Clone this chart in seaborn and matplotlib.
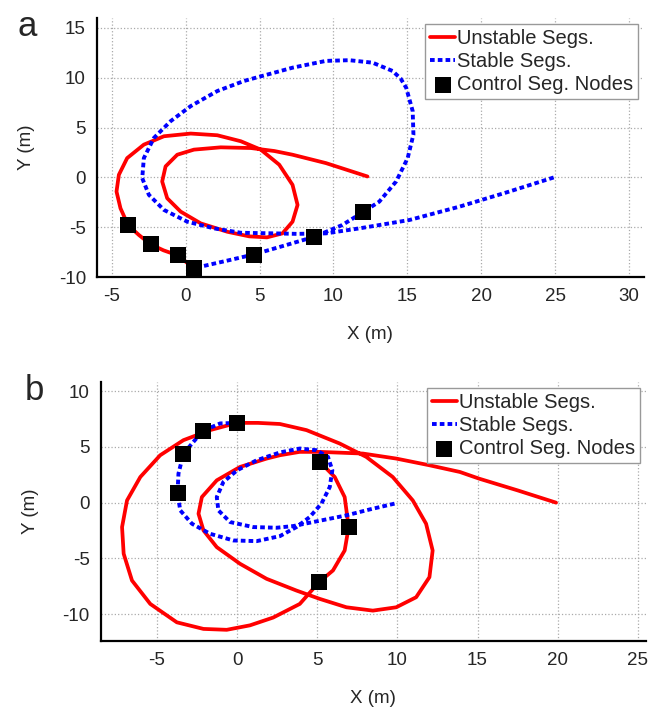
import matplotlib
matplotlib.use("Agg")
import matplotlib.pyplot as plt
import pandas as pd
import seaborn as sns

# panel a
a_stable_x = [24.9, 21.7, 18.53, 15.14, 11.75, 9.49, 7.5, 5.99, 3.73, 1.92, 0.11, -1.47, -2.49,
              -2.94, -2.83, -2.15, -1.02, 0.34, 2.14, 3.95, 5.0, 6.0, 7.23, 9.49, 11.07, 12.65,
              14.0, 14.55, 14.92, 15.36, 15.41, 15.02, 14.24, 13.1, 11.97, 10.6, 8.7, 6.78, 4.59,
              2.9, 1.24]
a_stable_y = [0.0, -1.5, -2.92, -4.26, -5.1, -5.6, -5.65, -5.6, -5.54, -5.1, -4.43, -3.25, -1.74,
              -0.07, 1.94, 3.96, 5.64, 7.15, 8.66, 9.67, 10.1, 10.5, 11.0, 11.68, 11.75, 11.5,
              10.67, 9.9, 8.99, 6.65, 4.3, 1.94, -0.4, -2.42, -3.5, -4.76, -5.94, -6.78, -7.72,
              -8.3, -8.86]
a_unstable_x = [0.56, -0.54, -1.5, -2.37, -3.16, -3.9, -4.41, -4.68, -4.52, -3.96, -2.83, -1.47,
                0.34, 2.14, 3.73, 5.08, 6.33, 7.23, 7.57, 7.23, 6.55, 5.5, 4.3, 2.82, 1.02, -0.34,
                -1.25, -1.59, -1.36, -0.57, 0.56, 2.37, 4.41, 6.0, 7.23, 9.49, 12.3]
a_unstable_y = [-9.1, -7.8, -7.3, -6.7, -5.77, -4.77, -3.09, -1.41, 0.27, 1.94, 3.29, 4.13, 4.4,
                4.23, 3.63, 2.79, 1.28, -0.74, -2.75, -4.43, -5.6, -6.0, -5.9, -5.44, -4.6, -3.42,
                -2.08, -0.4, 1.11, 2.28, 2.79, 3.02, 2.95, 2.65, 2.28, 1.44, 0.1]
a_nodes_x = [-3.9, -2.37, -0.54, 0.56, 4.59, 8.7, 11.97]
a_nodes_y = [-4.77, -6.7, -7.8, -9.1, -7.72, -5.94, -3.5]

# panel b
b_stable_x = [9.82, 8.3, 6.82, 4.74, 3.5, 2.46, 1.0, -0.44, -1.17, -1.27, -0.86, 0.0, 1.22, 2.67,
              3.91, 4.95, 5.67, 5.94, 5.78, 5.26, 4.53, 3.7, 2.67, 1.22, -0.24, -1.69, -2.82,
              -3.55, -3.72, -3.66, -3.35, -2.14, -1.06, 0.0]
b_stable_y = [-0.09, -0.6, -1.14, -1.74, -2.1, -2.25, -2.19, -1.74, -0.69, 0.5, 1.85, 2.9, 3.8,
              4.5, 4.85, 4.7, 4.1, 2.9, 1.4, -0.09, -1.29, -2.19, -3.0, -3.45, -3.39, -2.79,
              -1.89, -0.69, 0.86, 2.6, 4.4, 6.43, 7.1, 7.15]
b_unstable1_x = [19.9, 17.5, 15.1, 13.9, 12.0, 9.93, 7.85, 5.16, 3.9, 2.67, 1.84, 0.18, -1.27,
                 -2.2, -2.41, -2.1, -1.27, 0.18, 1.84, 3.7, 5.16, 6.82, 8.47, 9.93, 11.17, 12.0,
                 12.2, 11.79, 10.96, 9.71, 8.06, 6.4, 4.33, 2.67, 1.3, 0.0]
b_unstable1_y = [0.0, 1.1, 2.15, 2.75, 3.35, 3.95, 4.4, 4.55, 4.55, 4.25, 3.95, 3.2, 2.0, 0.5,
                 -0.99, -2.49, -3.99, -5.48, -6.83, -7.88, -8.63, -9.38, -9.68, -9.38, -8.48,
                 -6.68, -4.29, -1.89, 0.2, 2.3, 4.1, 5.3, 6.5, 7.05, 7.15, 7.15]
b_unstable2_x = [5.16, 6.09, 6.71, 6.96, 6.71, 5.98, 5.11, 3.91, 2.25, 0.8, -0.65, -2.1, -3.76,
                 -5.42, -6.56, -7.08, -7.18, -6.87, -6.04, -4.8, -3.35, -1.69, 0.0]
b_unstable2_y = [3.65, 2.3, 0.5, -2.19, -4.29, -6.08, -7.13, -9.08, -10.3, -11.0, -11.4, -11.32,
                 -10.73, -9.08, -6.98, -4.58, -2.19, 0.2, 2.3, 4.25, 5.6, 6.5, 7.15]
b_nodes_x = [-3.72, -3.35, -2.14, 0.0, 5.16, 6.96, 5.11]
b_nodes_y = [0.86, 4.4, 6.43, 7.15, 3.65, -2.19, -7.13]

RED = "#ff0000"
BLUE = "#0000ff"
FS = 13.5
LEG_FS = 14.5

sns.set_style("white")
plt.rcParams["font.family"] = ["Liberation Sans", "DejaVu Sans"]
plt.rcParams["axes.unicode_minus"] = False

fig = plt.figure(figsize=(6.51, 7.11), dpi=100)


def draw_panel(ax, stable, unstable_list, nodes, xlim, ylim, xticks, yticks, letter, lx):
    for ux, uy in unstable_list:
        sns.lineplot(x=ux, y=uy, sort=False, estimator=None, color=RED, lw=2.7,
                     label="Unstable Segs.", legend=False, ax=ax, zorder=2)
    sns.lineplot(x=stable[0], y=stable[1], sort=False, estimator=None, color=BLUE, lw=2.8,
                 linestyle=(0, (1.2, 0.8)), dash_capstyle="butt",
                 label="Stable Segs.", legend=False, ax=ax, zorder=3)
    nd = pd.DataFrame({"x": nodes[0], "y": nodes[1]})
    sns.scatterplot(data=nd, x="x", y="y", marker="s", s=125, color="black", linewidth=0,
                    label="Control Seg. Nodes", legend=False, ax=ax, zorder=4, clip_on=False)

    handles, labels = ax.get_legend_handles_labels()
    seen = {}
    for h, l in zip(handles, labels):
        seen.setdefault(l, h)
    order = ["Unstable Segs.", "Stable Segs.", "Control Seg. Nodes"]
    leg = ax.legend([seen[k] for k in order], order, loc="upper right", fontsize=LEG_FS,
                    handlelength=1.2, handletextpad=0.1, borderpad=0.25, labelspacing=0.2,
                    borderaxespad=0.3, fancybox=False, framealpha=1, edgecolor="#999999")
    leg.get_frame().set_linewidth(1.0)

    ax.set_xlim(*xlim)
    ax.set_ylim(*ylim)
    ax.set_xticks(xticks)
    ax.set_yticks(yticks)
    ax.grid(True, linestyle=":", color="#aaaaaa", lw=0.9)
    ax.tick_params(direction="in", length=4, labelsize=FS, pad=8)
    for side in ["top", "right"]:
        ax.spines[side].set_visible(False)
    for side in ["left", "bottom"]:
        ax.spines[side].set_linewidth(1.6)
        ax.spines[side].set_color("black")
    ax.set_xlabel("X (m)", fontsize=FS, labelpad=15)
    ax.set_ylabel("Y (m)", fontsize=FS, labelpad=17)
    ax.text(lx, 1.03, letter, transform=ax.transAxes, fontsize=25, va="top", ha="left")


ax_a = fig.add_axes([0.149, 0.610, 0.840, 0.365])
draw_panel(ax_a, (a_stable_x, a_stable_y), [(a_unstable_x, a_unstable_y)],
           (a_nodes_x, a_nodes_y), (-6, 31), (-10, 16),
           [-5, 0, 5, 10, 15, 20, 25, 30], [-10, -5, 0, 5, 10, 15], "a", -0.145)

ax_b = fig.add_axes([0.155, 0.0985, 0.837, 0.364])
draw_panel(ax_b, (b_stable_x, b_stable_y),
           [(b_unstable1_x, b_unstable1_y), (b_unstable2_x, b_unstable2_y)],
           (b_nodes_x, b_nodes_y), (-8.5, 25.5), (-12.4, 10.8),
           [-5, 0, 5, 10, 15, 20, 25], [-10, -5, 0, 5, 10], "b", -0.14)

fig.savefig("out.png", dpi=100)
